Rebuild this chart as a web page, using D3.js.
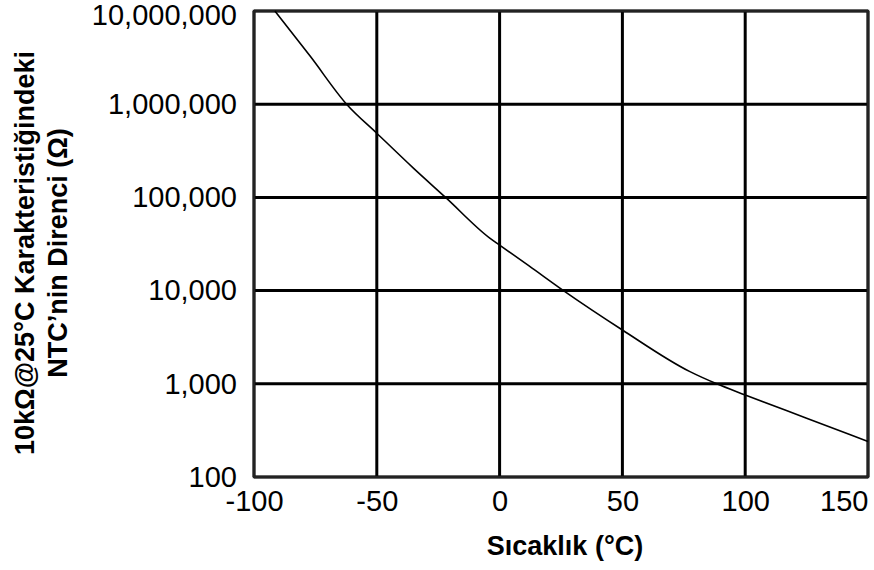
<!DOCTYPE html>
<html>
<head>
<meta charset="utf-8">
<script src="https://cdn.jsdelivr.net/npm/d3@7"></script>
<style>
  body { margin: 0; background: #fff; }
  text { font-family: Arial, "Liberation Sans", sans-serif; fill: #000; }
</style>
</head>
<body>
<svg id="chart" width="874" height="570"></svg>
<script>
// temperature (°C) and NTC resistance (Ω)
var temps = [-91.5, -77, -62.3, -50, -35, -22, -4, 0, 12, 26, 50, 77.5, 88.4, 100, 125, 150];
var ohms  = [10000000, 3240000, 1000000, 488000, 205000, 100000, 36600, 30800, 18400, 10000, 3780, 1350, 1000, 760, 427, 240];
var xTicks = [-100, -50, 0, 50, 100, 150];
var yTicks = [100, 1000, 10000, 100000, 1000000, 10000000];
var xTitle = "Sıcaklık (°C)";
var yTitle = ["10kΩ@25°C Karakteristiğindeki", "NTC’nin Direnci (Ω)"];

var margin = {top: 11, right: 6, bottom: 93, left: 254};
var width = 874 - margin.left - margin.right,
    height = 570 - margin.top - margin.bottom;

var svg = d3.select("#chart");
var g = svg.append("g").attr("transform", "translate(" + margin.left + "," + margin.top + ")");

var x = d3.scaleLinear().domain([-100, 150]).range([0, width]);
var y = d3.scaleLog().domain([100, 10000000]).range([height, 0]);

// grid
g.selectAll(".vgrid")
    .data(xTicks)
    .enter()
    .append("line")
    .attr("x1", function(d){ return x(d); })
    .attr("x2", function(d){ return x(d); })
    .attr("y1", 0)
    .attr("y2", height)
    .attr("stroke", "#000")
    .attr("stroke-width", 3);
g.selectAll(".hgrid")
    .data(yTicks)
    .enter()
    .append("line")
    .attr("y1", function(d){ return y(d); })
    .attr("y2", function(d){ return y(d); })
    .attr("x1", 0)
    .attr("x2", width)
    .attr("stroke", "#000")
    .attr("stroke-width", 3);

g.append("rect")
    .attr("width", width)
    .attr("height", height)
    .attr("fill", "none")
    .attr("stroke", "#222")
    .attr("stroke-width", 2.5);

// axes labels
var xAxis = d3.axisBottom(x).tickValues(xTicks).tickSize(0).tickPadding(13)
    .tickFormat(function(d){ return d < 0 ? "-" + Math.abs(d) : d; });
var yAxis = d3.axisLeft(y).tickValues(yTicks).tickSize(0).tickPadding(17)
    .tickFormat(d3.format(",d"));

var gx = g.append("g").attr("transform", "translate(0," + height + ")").call(xAxis);
var gy = g.append("g").call(yAxis);
gx.select(".domain").remove();
gy.select(".domain").remove();
gx.selectAll("text").style("font-size", "29px").style("font-family", "Arial, 'Liberation Sans', sans-serif").attr("fill", "#000");
gy.selectAll("text").style("font-size", "29px").style("font-family", "Arial, 'Liberation Sans', sans-serif").attr("fill", "#000");
// last x label pulled inside the right edge, top y label pushed down
gx.selectAll("text").filter(function(d){ return d == 150; })
    .attr("text-anchor", "end").attr("x", 0);
gy.selectAll("text").filter(function(d){ return d == 10000000; })
    .attr("dy", "0.47em");

// curve
var pts = temps.map(function(t, i){ return [t, ohms[i]]; });
var line = d3.line()
    .x(function(d){ return x(d[0]); })
    .y(function(d){ return y(d[1]); })
    .curve(d3.curveMonotoneX);
g.append("path")
    .datum(pts)
    .attr("d", line)
    .attr("fill", "none")
    .attr("stroke", "#000")
    .attr("stroke-width", 1.6);

// titles
svg.append("text")
    .attr("x", margin.left + width / 2 + 4)
    .attr("y", 555)
    .attr("text-anchor", "middle")
    .style("font-size", "27px")
    .style("font-weight", "bold")
    .text(xTitle);

var yt = svg.append("text")
    .attr("transform", "translate(34,253) rotate(-90)")
    .attr("text-anchor", "middle")
    .style("font-size", "27px")
    .style("font-weight", "bold");
yt.selectAll("tspan")
    .data(yTitle)
    .enter()
    .append("tspan")
    .attr("x", 0)
    .attr("dy", function(d, i){ return i == 0 ? 0 : 33; })
    .text(function(d){ return d; });
</script>
</body>
</html>
